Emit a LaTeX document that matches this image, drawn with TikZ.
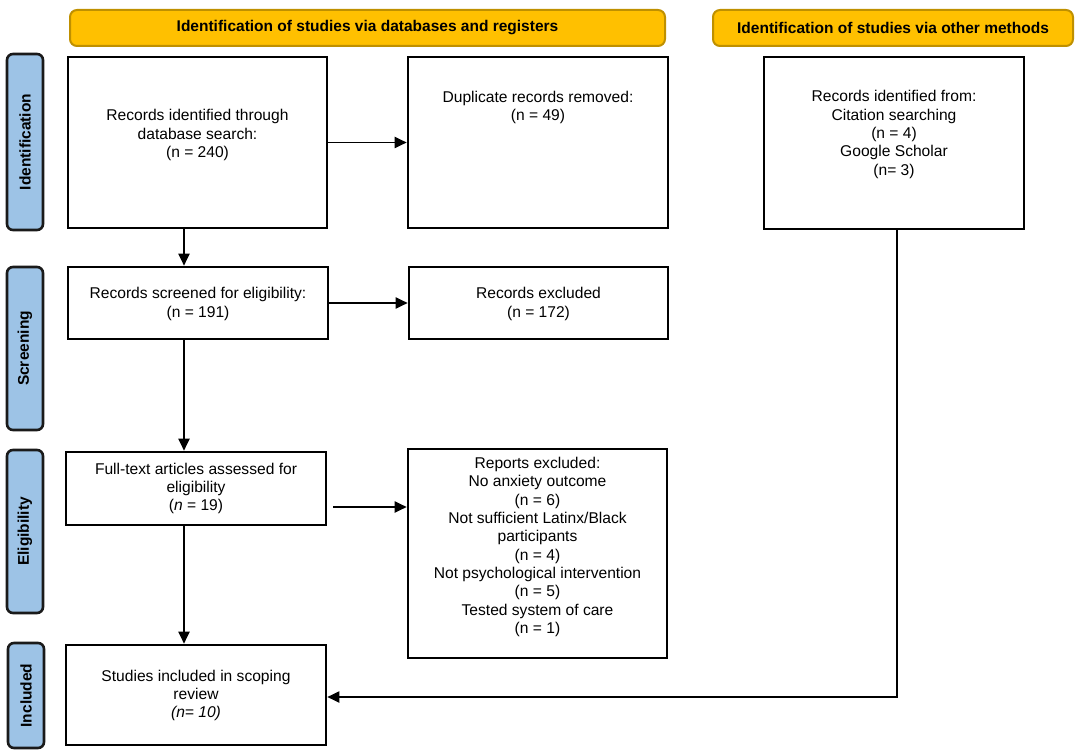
\documentclass[tikz,border=0pt]{standalone}
\usepackage{fontspec}
\setmainfont{Liberation Sans}
\usetikzlibrary{arrows.meta}
\definecolor{hdrfill}{HTML}{FFC000}
\definecolor{hdrborder}{HTML}{BF9000}
\definecolor{sidefill}{HTML}{9DC3E6}
\definecolor{sideborder}{HTML}{1A1A1A}
\tikzset{
  hdr/.style={draw=hdrborder, fill=hdrfill, line width=2pt, rounded corners=7pt,
    font=\bfseries\fontsize{15.5}{18}\selectfont, inner sep=0pt},
  side/.style={draw=sideborder, fill=sidefill, line width=2.6pt, rounded corners=6pt,
    rotate=90, font=\bfseries\fontsize{15.5}{18}\selectfont, inner sep=0pt},
  box/.style={draw=black, line width=2.6pt, fill=white, inner sep=0pt},
  txt/.style={align=center, font=\fontsize{15.6}{18.3}\selectfont, inner sep=0pt},
  arr/.style={line width=1.9pt, -{Triangle[length=12pt,width=11pt]}},
  ln/.style={line width=1.9pt}
}
\begin{document}
\begin{tikzpicture}[x=1pt,y=-1pt]
\useasboundingbox (0,0) rectangle (1084,754);
% headers
\node[hdr, minimum width=595, minimum height=36] (h1) at (367.5,28) {Identification of studies via databases and registers};
\node[hdr, minimum width=360, minimum height=36] (h2) at (893,28) {Identification of studies via other methods};
% side labels
\node[side, minimum width=176, minimum height=36] (s1) at (25,142) {Identification};
\node[side, minimum width=163, minimum height=36] (s2) at (25,348.5) {Screening};
\node[side, minimum width=163, minimum height=36] (s3) at (25,531.5) {Eligibility};
\node[side, minimum width=105, minimum height=36] (s4) at (26,695.5) {Included};
% boxes
\node[box, minimum width=259, minimum height=171] (b1) at (197.5,142.5) {};
\node[box, minimum width=260, minimum height=171] (dup) at (538,142.5) {};
\node[box, minimum width=260, minimum height=172] (oth) at (894,143) {};
\node[box, minimum width=260, minimum height=72] (scr) at (198,303) {};
\node[box, minimum width=259, minimum height=72] (rex) at (538.5,303) {};
\node[box, minimum width=260, minimum height=73] (ft) at (196,488.5) {};
\node[box, minimum width=259, minimum height=209] (rep) at (537.5,553.5) {};
\node[box, minimum width=260, minimum height=100] (inc) at (196,695) {};
% texts
\node[txt] (b1t) at (197.5,135) {Records identified through\\database search:\\(n = 240)};
\node[txt] (dupt) at (538,107.5) {Duplicate records removed:\\(n = 49)};
\node[txt] (otht) at (894,134.5) {Records identified from:\\Citation searching\\(n = 4)\\Google Scholar\\(n= 3)};
\node[txt] (scrt) at (198,304) {Records screened for eligibility:\\(n = 191)};
\node[txt] (rext) at (538.5,304) {Records excluded\\(n = 172)};
\node[txt] (ftt) at (196,488.5) {Full-text articles assessed for\\eligibility\\(\textit{n} = 19)};
\node[txt] (rept) at (537.5,547) {Reports excluded:\\No anxiety outcome\\(n = 6)\\Not sufficient Latinx/Black\\participants\\(n = 4)\\Not psychological intervention\\(n = 5)\\Tested system of care\\(n = 1)};
\node[txt] (inct) at (196,695.5) {Studies included in scoping\\review\\\textit{(n= 10)}};
% connectors
\coordinate (cx) at (184,0);
\coordinate (fy) at (0,507);
\coordinate (ox) at (897,697);
\draw[arr] (b1.south -| cx) -- (scr.north -| cx);
\draw[arr] (scr.south -| cx) -- (ft.north -| cx);
\draw[arr] (ft.south -| cx) -- (inc.north -| cx);
\draw[arr] (b1.east) -- (dup.west);
\draw[arr] (scr.east) -- (rex.west);
\draw[arr] ([xshift=6pt]ft.east |- fy) -- (rep.west |- fy);
\draw[arr] (oth.south -| ox) |- (inc.east |- ox);
\end{tikzpicture}
\end{document}
